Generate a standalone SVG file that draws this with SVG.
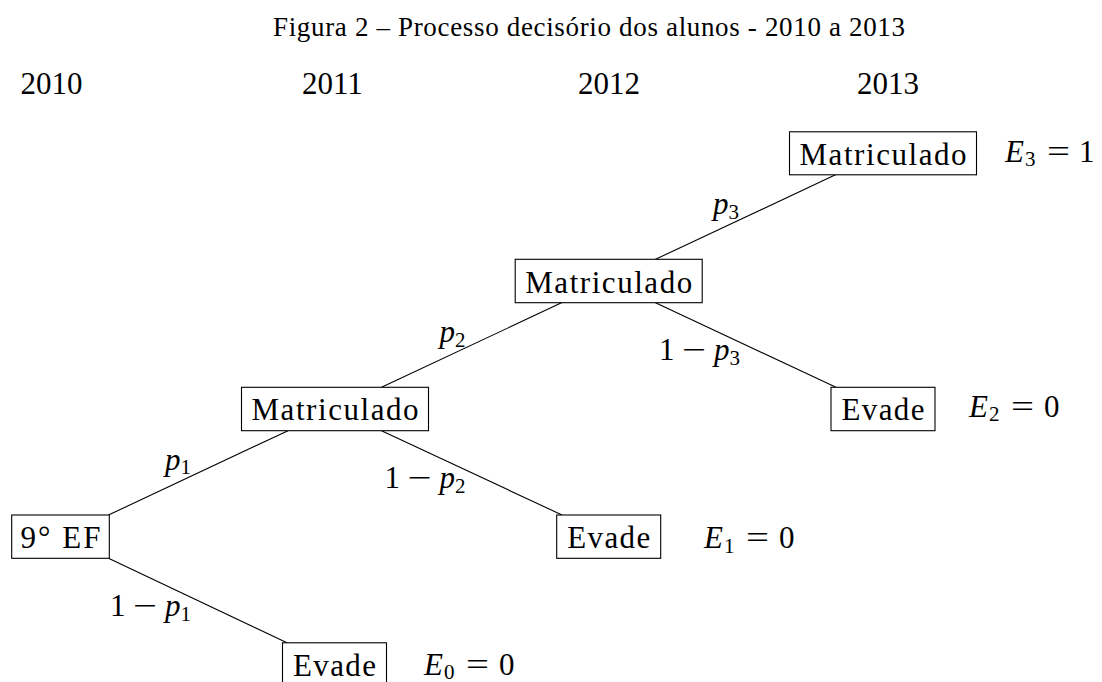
<svg xmlns="http://www.w3.org/2000/svg" width="1102" height="682" viewBox="0 0 1102 682">
  <style>
    .t { font-family: "Liberation Serif", "Times New Roman", serif; font-size: 31px; fill: #000; }
    .title { font-size: 27px; }
    .i { font-style: italic; }
    .sub { font-size: 21px; }
    .box { fill: #fff; stroke: #000; stroke-width: 1.1; }
    .edge { stroke: #000; stroke-width: 1.1; fill: none; }
  </style>
  <rect x="0" y="0" width="1102" height="682" fill="#fff"/>

  <text class="t title" x="273" y="36" textLength="632" lengthAdjust="spacing">Figura 2 – Processo decisório dos alunos - 2010 a 2013</text>

  <g id="years">
    <text class="t" x="20.5" y="94">2010</text>
    <text class="t" x="302" y="94">2011</text>
    <text class="t" x="578" y="94">2012</text>
    <text class="t" x="857" y="94">2013</text>
  </g>

  <g id="connectors">
    <line class="edge" x1="108.5" y1="515" x2="288" y2="430.7"/>
    <line class="edge" x1="108.5" y1="558.3" x2="287" y2="642.8"/>
    <line class="edge" x1="381.5" y1="387.3" x2="562" y2="302.6"/>
    <line class="edge" x1="381.5" y1="430.7" x2="562" y2="515"/>
    <line class="edge" x1="655.5" y1="259.3" x2="836" y2="174.6"/>
    <line class="edge" x1="655.5" y1="302.7" x2="836" y2="387.3"/>
  </g>

  <g id="edge-labels">
    <text class="t"><tspan class="i" x="165" y="469.5">p</tspan><tspan class="sub" x="180.5" y="474">1</tspan></text>
    <text class="t"><tspan class="i" x="439.5" y="342">p</tspan><tspan class="sub" x="455" y="346.5">2</tspan></text>
    <text class="t"><tspan class="i" x="713" y="214">p</tspan><tspan class="sub" x="728.5" y="218.5">3</tspan></text>

    <text class="t" x="110" y="616">1</text>
    <text class="t" x="133" y="616" textLength="24" lengthAdjust="spacingAndGlyphs">−</text>
    <text class="t"><tspan class="i" x="165" y="616">p</tspan><tspan class="sub" x="180.5" y="620.5">1</tspan></text>

    <text class="t" x="384.5" y="488.3">1</text>
    <text class="t" x="407.5" y="488.3" textLength="24" lengthAdjust="spacingAndGlyphs">−</text>
    <text class="t"><tspan class="i" x="439.5" y="488.3">p</tspan><tspan class="sub" x="455" y="492.8">2</tspan></text>

    <text class="t" x="659" y="360">1</text>
    <text class="t" x="682" y="360" textLength="24" lengthAdjust="spacingAndGlyphs">−</text>
    <text class="t"><tspan class="i" x="714" y="360">p</tspan><tspan class="sub" x="729.5" y="364.5">3</tspan></text>
  </g>

  <g id="node-9ef">
    <rect class="box" x="11.7" y="515" width="97.6" height="43.3"/>
    <text class="t" x="60.5" y="548.3" text-anchor="middle" textLength="80" lengthAdjust="spacing">9° EF</text>
  </g>
  <g id="node-matriculado-2011">
    <rect class="box" x="241.5" y="387.3" width="187" height="43.4"/>
    <text class="t" x="335" y="420" text-anchor="middle" textLength="167" lengthAdjust="spacing">Matriculado</text>
  </g>
  <g id="node-evade-2011">
    <rect class="box" x="282.5" y="642.8" width="104" height="43.3"/>
    <text class="t" x="334.5" y="675.7" text-anchor="middle" textLength="83" lengthAdjust="spacing">Evade</text>
  </g>
  <g id="node-matriculado-2012">
    <rect class="box" x="515.2" y="259.3" width="187" height="43.4"/>
    <text class="t" x="608.7" y="292.7" text-anchor="middle" textLength="167" lengthAdjust="spacing">Matriculado</text>
  </g>
  <g id="node-evade-2012">
    <rect class="box" x="556.7" y="515" width="104" height="43.3"/>
    <text class="t" x="608.7" y="548.3" text-anchor="middle" textLength="83" lengthAdjust="spacing">Evade</text>
  </g>
  <g id="node-matriculado-2013">
    <rect class="box" x="789.5" y="131.8" width="187" height="43"/>
    <text class="t" x="883" y="164.8" text-anchor="middle" textLength="167" lengthAdjust="spacing">Matriculado</text>
  </g>
  <g id="node-evade-2013">
    <rect class="box" x="831" y="387.3" width="104" height="43.4"/>
    <text class="t" x="883" y="420" text-anchor="middle" textLength="83" lengthAdjust="spacing">Evade</text>
  </g>

  <g id="outcome-labels">
    <g id="e3">
      <text class="t"><tspan class="i" x="1005" y="161.7">E</tspan><tspan class="sub" x="1025" y="166.2">3</tspan></text>
      <text class="t" x="1047" y="161.7" textLength="23" lengthAdjust="spacingAndGlyphs">=</text>
      <text class="t" x="1079" y="161.7">1</text>
    </g>
    <g id="e2">
      <text class="t"><tspan class="i" x="969" y="416.7">E</tspan><tspan class="sub" x="989" y="421.2">2</tspan></text>
      <text class="t" x="1011" y="416.7" textLength="23" lengthAdjust="spacingAndGlyphs">=</text>
      <text class="t" x="1044" y="416.7">0</text>
    </g>
    <g id="e1">
      <text class="t"><tspan class="i" x="704" y="548.3">E</tspan><tspan class="sub" x="724" y="552.8">1</tspan></text>
      <text class="t" x="746" y="548.3" textLength="23" lengthAdjust="spacingAndGlyphs">=</text>
      <text class="t" x="779" y="548.3">0</text>
    </g>
    <g id="e0">
      <text class="t"><tspan class="i" x="424" y="675">E</tspan><tspan class="sub" x="444" y="678.5">0</tspan></text>
      <text class="t" x="466" y="675" textLength="23" lengthAdjust="spacingAndGlyphs">=</text>
      <text class="t" x="499" y="675">0</text>
    </g>
  </g>
</svg>
